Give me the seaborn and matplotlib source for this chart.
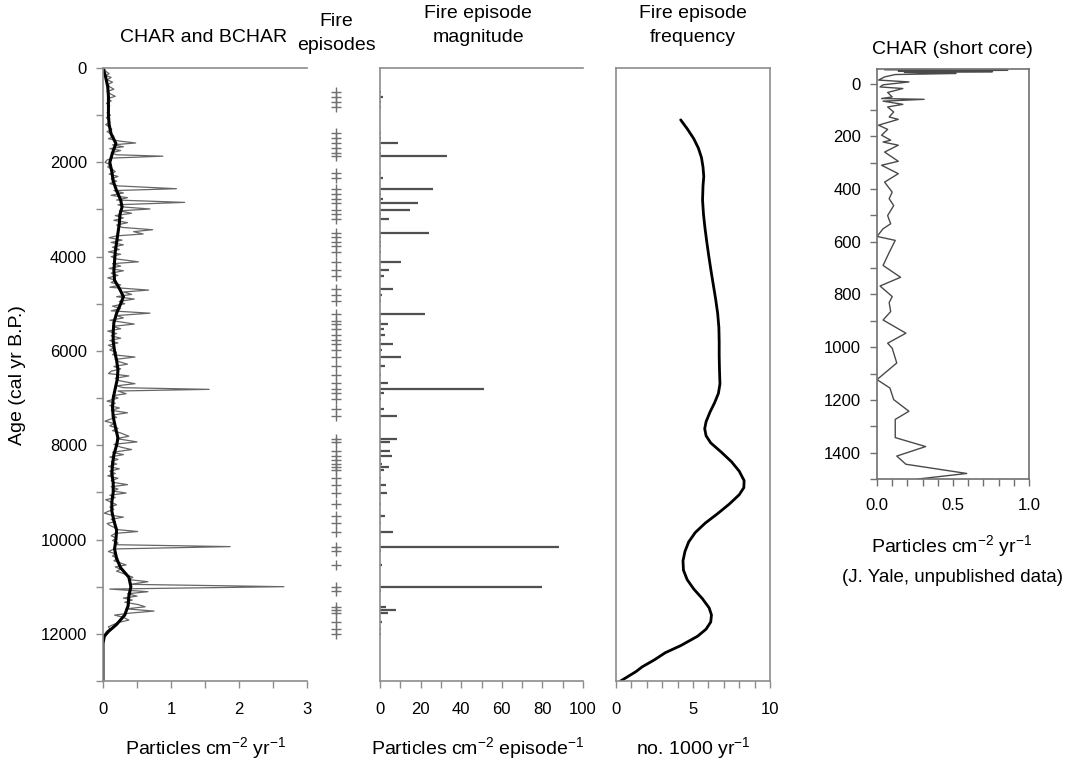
import numpy as np
import pandas as pd
import matplotlib
matplotlib.use("Agg")
import matplotlib.pyplot as plt
import seaborn as sns

# ---------------- data ----------------
char_age = [
    0, 40, 80, 120, 160, 200, 250, 300, 350, 400,
    450, 500, 550, 600, 650, 700, 750, 800, 850, 900,
    950, 1000, 1050, 1100, 1150, 1200, 1250, 1300, 1350, 1400,
    1450, 1500, 1550, 1590, 1630, 1670, 1710, 1750, 1800, 1840,
    1870, 1910, 1950, 2000, 2050, 2100, 2150, 2200, 2250, 2300,
    2350, 2400, 2450, 2500, 2560, 2600, 2650, 2700, 2750, 2800,
    2850, 2900, 2950, 2990, 3030, 3080, 3130, 3180, 3230, 3280,
    3330, 3380, 3430, 3470, 3520, 3560, 3600, 3650, 3700, 3750,
    3800, 3850, 3900, 3950, 4000, 4050, 4110, 4150, 4200, 4250,
    4300, 4350, 4400, 4450, 4500, 4550, 4600, 4650, 4710, 4750,
    4800, 4850, 4900, 4950, 5000, 5050, 5100, 5150, 5200, 5250,
    5300, 5350, 5430, 5480, 5530, 5580, 5630, 5680, 5730, 5780,
    5830, 5880, 5930, 5980, 6030, 6080, 6130, 6180, 6230, 6280,
    6330, 6380, 6430, 6480, 6530, 6580, 6630, 6695, 6740, 6780,
    6815, 6850, 6908, 6950, 7000, 7064, 7110, 7160, 7210, 7260,
    7312, 7360, 7410, 7450, 7490, 7540, 7590, 7640, 7690, 7740,
    7809, 7860, 7929, 7980, 8040, 8092, 8150, 8199, 8250, 8300,
    8350, 8400, 8450, 8500, 8550, 8600, 8650, 8700, 8750, 8790,
    8836, 8880, 8930, 8970, 9014, 9060, 9110, 9156, 9210, 9262,
    9310, 9360, 9400, 9440, 9490, 9525, 9570, 9620, 9660, 9700,
    9740, 9790, 9830, 9870, 9920, 9972, 10020, 10070, 10110, 10150,
    10200, 10255, 10300, 10350, 10400, 10450, 10500, 10539, 10580, 10630,
    10670, 10716, 10760, 10800, 10850, 10894, 10950, 11000, 11050, 11106,
    11150, 11200, 11240, 11284, 11330, 11380, 11426, 11470, 11517, 11560,
    11603, 11650, 11709, 11760, 11800, 11851, 11900, 11950, 12000, 12028,
    12200, 12500, 12800, 13000,
]
char_val = [
    0.00, 0.03, 0.05, 0.09, 0.04, 0.12, 0.06, 0.14, 0.07, 0.10,
    0.16, 0.06, 0.11, 0.18, 0.07, 0.12, 0.05, 0.10, 0.07, 0.09,
    0.06, 0.11, 0.05, 0.08, 0.10, 0.04, 0.09, 0.13, 0.06, 0.12,
    0.16, 0.08, 0.24, 0.48, 0.14, 0.30, 0.10, 0.26, 0.12, 0.20,
    0.88, 0.14, 0.06, 0.03, 0.10, 0.07, 0.14, 0.18, 0.09, 0.22,
    0.12, 0.20, 0.10, 0.22, 1.08, 0.16, 0.30, 0.12, 0.36, 0.20,
    1.20, 0.22, 0.32, 0.69, 0.24, 0.42, 0.18, 0.30, 0.16, 0.36,
    0.20, 0.28, 0.73, 0.45, 0.59, 0.20, 0.09, 0.28, 0.12, 0.30,
    0.14, 0.24, 0.08, 0.26, 0.12, 0.20, 0.52, 0.14, 0.26, 0.09,
    0.30, 0.12, 0.22, 0.07, 0.18, 0.12, 0.26, 0.10, 0.67, 0.30,
    0.42, 0.20, 0.46, 0.24, 0.32, 0.14, 0.26, 0.12, 0.69, 0.20,
    0.30, 0.10, 0.46, 0.14, 0.26, 0.07, 0.20, 0.12, 0.26, 0.10,
    0.22, 0.08, 0.16, 0.10, 0.20, 0.14, 0.47, 0.18, 0.24, 0.36,
    0.16, 0.26, 0.12, 0.08, 0.38, 0.18, 0.24, 0.47, 0.20, 0.30,
    1.56, 0.22, 0.34, 0.14, 0.22, 0.06, 0.18, 0.10, 0.24, 0.12,
    0.36, 0.14, 0.20, 0.10, 0.03, 0.16, 0.10, 0.22, 0.14, 0.26,
    0.38, 0.20, 0.50, 0.16, 0.26, 0.42, 0.14, 0.30, 0.10, 0.22,
    0.12, 0.20, 0.08, 0.24, 0.10, 0.18, 0.07, 0.22, 0.12, 0.16,
    0.36, 0.12, 0.22, 0.14, 0.34, 0.10, 0.18, 0.04, 0.12, 0.20,
    0.10, 0.16, 0.08, 0.02, 0.14, 0.30, 0.12, 0.18, 0.06, 0.10,
    0.16, 0.22, 0.51, 0.18, 0.12, 0.20, 0.14, 0.22, 0.20, 1.87,
    0.16, 0.08, 0.18, 0.14, 0.22, 0.16, 0.26, 0.34, 0.18, 0.26,
    0.20, 0.29, 0.36, 0.44, 0.38, 0.66, 0.40, 2.66, 0.10, 0.66,
    0.36, 0.50, 0.30, 0.43, 0.32, 0.52, 0.62, 0.34, 0.75, 0.40,
    0.17, 0.30, 0.38, 0.22, 0.16, 0.08, 0.10, 0.05, 0.03, 0.00,
    0.00, 0.00, 0.00, 0.00,
]

bchar_age = [0, 200, 400, 600, 800, 1000, 1200, 1400, 1600, 1800,
             2000, 2200, 2400, 2600, 2800, 2950, 3100, 3300, 3500, 3700,
             3900, 4100, 4300, 4500, 4700, 4850, 5000, 5200, 5400, 5600,
             5800, 6000, 6200, 6400, 6600, 6800, 7000, 7200, 7400, 7600,
             7850, 8000, 8200, 8400, 8600, 8800, 9000, 9200, 9400, 9600,
             9800, 10000, 10200, 10400, 10600, 10800, 11000, 11200, 11400, 11600,
             11800, 11950, 12050, 12200, 13000]
bchar_val = [0.00, 0.04, 0.07, 0.08, 0.08, 0.08, 0.09, 0.12, 0.19, 0.14,
             0.10, 0.13, 0.15, 0.20, 0.26, 0.28, 0.25, 0.24, 0.22, 0.20,
             0.18, 0.17, 0.16, 0.17, 0.25, 0.30, 0.26, 0.20, 0.16, 0.15,
             0.15, 0.17, 0.20, 0.22, 0.21, 0.18, 0.15, 0.14, 0.15, 0.18,
             0.22, 0.20, 0.16, 0.14, 0.13, 0.15, 0.15, 0.13, 0.13, 0.16,
             0.20, 0.19, 0.17, 0.20, 0.26, 0.38, 0.41, 0.38, 0.37, 0.32,
             0.20, 0.08, 0.02, 0.00, 0.00]

fire_age = [500, 610, 720, 820, 1376, 1480, 1589, 1700, 1800, 1872,
            2227, 2326, 2560, 2667, 2770, 2870, 3010, 3092, 3205, 3500,
            3589, 3695, 3775, 3908, 4121, 4290, 4415, 4688, 4820, 4940,
            5225, 5362, 5433, 5525, 5660, 5760, 5850, 5990, 6135, 6310,
            6500, 6690, 6815, 6887, 7028, 7230, 7370, 7860, 7935, 8115,
            8220, 8305, 8400, 8470, 8520, 8690, 8837, 9014, 9240, 9511,
            9652, 9840, 10163, 10245, 10530, 11014, 11100, 11426, 11496, 11550,
            11755, 11887, 12000]
fire_mag = [0.3, 1.6, 0.3, 0.3, 0.3, 0.3, 9.0, 0.3, 0.3, 33.2,
            0.3, 1.6, 26.0, 0.3, 1.6, 18.9, 14.8, 0.3, 4.6, 24.3,
            0.3, 0.3, 0.3, 0.3, 10.2, 4.6, 2.0, 6.2, 0.8, 0.3,
            22.3, 0.3, 4.1, 2.0, 2.5, 0.3, 6.2, 1.1, 10.4, 2.5,
            0.7, 4.1, 51.4, 2.0, 0.3, 2.0, 8.2, 8.2, 4.9, 4.9,
            6.0, 0.3, 0.8, 4.6, 2.0, 0.3, 2.8, 3.6, 0.3, 2.6,
            0.3, 6.6, 88.0, 0.7, 1.1, 80.0, 0.3, 2.8, 7.9, 4.1,
            1.1, 0.3, 0.3]

freq_age = [1100, 1300, 1500, 1700, 1900, 2100, 2300, 2500, 2800, 3100,
            3400, 3700, 4000, 4300, 4600, 4900, 5200, 5500, 5800, 6100,
            6400, 6700, 6900, 7100, 7300, 7500, 7650, 7800, 7950, 8150,
            8350, 8550, 8750, 8900, 9050, 9250, 9450, 9650, 9850, 10050,
            10250, 10450, 10650, 10850, 11050, 11250, 11450, 11600, 11750, 11900,
            12050, 12250, 12400, 12550, 12700, 12800, 12900, 13000]
freq_val = [4.20, 4.65, 5.05, 5.35, 5.55, 5.65, 5.70, 5.65, 5.62, 5.68,
            5.78, 5.90, 6.03, 6.17, 6.32, 6.47, 6.60, 6.68, 6.70, 6.70,
            6.72, 6.75, 6.65, 6.40, 6.10, 5.85, 5.76, 5.85, 6.15, 6.85,
            7.50, 8.00, 8.32, 8.30, 8.00, 7.35, 6.60, 5.80, 5.15, 4.72,
            4.48, 4.35, 4.38, 4.62, 5.05, 5.60, 6.05, 6.20, 6.15, 5.85,
            5.30, 4.20, 3.20, 2.50, 1.70, 1.30, 0.80, 0.30]

short_age = [-52, -50, -47, -45, -42, -38, -34, -25, -13, -6,
             5, 13, 19, 34, 51, 57, 60, 67, 79, 89,
             108, 127, 136, 158, 174, 196, 215, 222, 234, 260,
             295, 310, 342, 374, 412, 437, 463, 501, 532, 551,
             580, 595, 641, 690, 735, 768, 808, 831, 865, 897,
             947, 985, 1004, 1060, 1123, 1155, 1199, 1243, 1274, 1343,
             1377, 1413, 1444, 1479, 1500]
short_val = [0.05, 0.86, 0.14, 0.76, 0.18, 0.52, 0.12, 0.05, 0.01, 0.21,
             0.04, 0.02, 0.17, 0.07, 0.10, 0.03, 0.31, 0.04, 0.17, 0.07,
             0.11, 0.08, 0.14, 0.01, 0.07, 0.03, 0.09, 0.04, 0.14, 0.05,
             0.14, 0.03, 0.14, 0.05, 0.10, 0.08, 0.11, 0.07, 0.09, 0.04,
             0.00, 0.12, 0.08, 0.04, 0.155, 0.02, 0.10, 0.08, 0.09, 0.04,
             0.19, 0.07, 0.10, 0.13, 0.00, 0.085, 0.11, 0.21, 0.12, 0.12,
             0.32, 0.13, 0.19, 0.59, 0.27]

# ---------------- style ----------------
sns.set_theme(style="ticks")
plt.rcParams["font.family"] = ["Liberation Sans", "DejaVu Sans"]
plt.rcParams["mathtext.fontset"] = "custom"
plt.rcParams["mathtext.rm"] = "Liberation Sans"
plt.rcParams["mathtext.it"] = "Liberation Sans"
plt.rcParams["mathtext.default"] = "rm"
plt.rcParams["text.color"] = "black"
plt.rcParams["axes.labelcolor"] = "black"

W, H = 1070, 761
fig = plt.figure(figsize=(W / 100, H / 100), dpi=100)
SPINE = "#8c8c8c"
TICKFS = 12
TITLEFS = 14
LABFS = 14


def rect(x0, y0, x1, y1):
    return [x0 / W, 1 - y1 / H, (x1 - x0) / W, (y1 - y0) / H]


def style_axis(ax, spines, scol=SPINE, xpad=10, ypad=6.5):
    for s in ["top", "bottom", "left", "right"]:
        ax.spines[s].set_visible(s in spines)
        ax.spines[s].set_color(scol)
        ax.spines[s].set_linewidth(1.2)
    ax.tick_params(axis="both", which="both", direction="out", color=scol,
                   width=1, length=5, labelsize=TICKFS, labelcolor="black")
    ax.tick_params(axis="x", which="both", pad=xpad)
    ax.tick_params(axis="y", which="both", pad=ypad)
    ax.set_facecolor("none")


# ---- Panel 1: CHAR and BCHAR ----
ax1 = fig.add_axes(rect(103, 68, 307, 681))
df_char = pd.DataFrame({"age": char_age, "val": char_val})
df_bchar = pd.DataFrame({"age": bchar_age, "val": bchar_val})
sns.lineplot(data=df_char, x="val", y="age", orient="y", sort=False, estimator=None,
             color="#666666", lw=0.9, ax=ax1)
sns.lineplot(data=df_bchar, x="val", y="age", orient="y", sort=False, estimator=None,
             color="black", lw=2.2, ax=ax1)
ax1.set_xlim(0, 3)
ax1.set_ylim(13000, 0)
ax1.set_xticks([0, 1, 2, 3])
ax1.set_xticks([0.5, 1.5, 2.5], minor=True)
ax1.set_yticks(range(0, 13000, 2000))
ax1.set_yticks(range(1000, 14000, 2000), minor=True)
ax1.set_xlabel("")
ax1.set_ylabel("")
style_axis(ax1, ["top", "left", "bottom"])

# ---- Panel 2: Fire episodes ----
ax2 = fig.add_axes(rect(310, 68, 362, 681))
df_fire = pd.DataFrame({"x": np.zeros(len(fire_age)), "age": fire_age, "mag": fire_mag})
sns.scatterplot(data=df_fire, x="x", y="age", marker="+", s=45, color="#707070",
                linewidth=1.0, ax=ax2)
ax2.set_xlim(-1, 1)
ax2.set_ylim(13000, 0)
ax2.axis("off")

# ---- Panel 3: Fire episode magnitude ----
ax3 = fig.add_axes(rect(380, 68, 583, 681))
ax3.hlines(df_fire["age"], 0, df_fire["mag"], color="#505050", lw=1.6)
ax3.set_xlim(0, 100)
ax3.set_ylim(13000, 0)
ax3.set_xticks(range(0, 101, 20))
ax3.set_xticks(range(10, 100, 20), minor=True)
ax3.set_yticks([])
style_axis(ax3, ["top", "left", "bottom"])

# ---- Panel 4: Fire episode frequency ----
ax4 = fig.add_axes(rect(616, 68, 770, 681))
df_freq = pd.DataFrame({"age": freq_age, "val": freq_val})
sns.lineplot(data=df_freq, x="val", y="age", orient="y", sort=False, estimator=None,
             color="black", lw=2.0, ax=ax4)
ax4.set_xlim(0, 10)
ax4.set_ylim(13000, 0)
ax4.set_xticks([0, 5, 10])
ax4.set_xticks([1, 2, 3, 4, 6, 7, 8, 9], minor=True)
ax4.set_yticks([])
ax4.set_xlabel("")
ax4.set_ylabel("")
style_axis(ax4, ["top", "left", "bottom", "right"])

# ---- Panel 5: CHAR (short core) ----
ax5 = fig.add_axes(rect(877, 69, 1029, 479))
df_short = pd.DataFrame({"age": short_age, "val": short_val})
sns.lineplot(data=df_short, x="val", y="age", orient="y", sort=False, estimator=None,
             color="#4a4a4a", lw=1.0, ax=ax5)
ax5.set_xlim(0, 1.0)
ax5.set_ylim(1500, -55)
ax5.set_xticks([0.0, 0.5, 1.0])
ax5.set_xticklabels(["0.0", "0.5", "1.0"])
ax5.set_xticks([0.1, 0.2, 0.3, 0.4, 0.6, 0.7, 0.8, 0.9], minor=True)
ax5.set_yticks(range(0, 1401, 200))
ax5.set_yticks(range(100, 1501, 200), minor=True)
ax5.set_xlabel("")
ax5.set_ylabel("")
style_axis(ax5, ["top", "left", "bottom", "right"], scol="#707070", xpad=8.5)


# ---------------- text ----------------
def ftext(x, y, s, fs=LABFS, **kw):
    fig.text(x / W, 1 - y / H, s, ha="center", va="center", fontsize=fs, **kw)


ftext(204, 37, "CHAR and BCHAR", fs=TITLEFS)
ftext(336, 21, "Fire", fs=TITLEFS)
ftext(336, 45, "episodes", fs=TITLEFS)
ftext(478, 14, "Fire episode", fs=TITLEFS)
ftext(478, 37, "magnitude", fs=TITLEFS)
ftext(693, 14, "Fire episode", fs=TITLEFS)
ftext(693, 37, "frequency", fs=TITLEFS)
ftext(952, 50, "CHAR (short core)", fs=TITLEFS)

ftext(206, 748, r"Particles cm$^{-2}$ yr$^{-1}$")
ftext(478, 748, r"Particles cm$^{-2}$ episode$^{-1}$")
ftext(693, 748, r"no. 1000 yr$^{-1}$")
ftext(952, 546, r"Particles cm$^{-2}$ yr$^{-1}$")
ftext(952, 578, "(J. Yale, unpublished data)", fs=13.5)
fig.text(18 / W, 1 - 375 / H, "Age (cal yr B.P.)", rotation=90, ha="center",
         va="center", fontsize=LABFS)

fig.savefig("out.png", dpi=100)
